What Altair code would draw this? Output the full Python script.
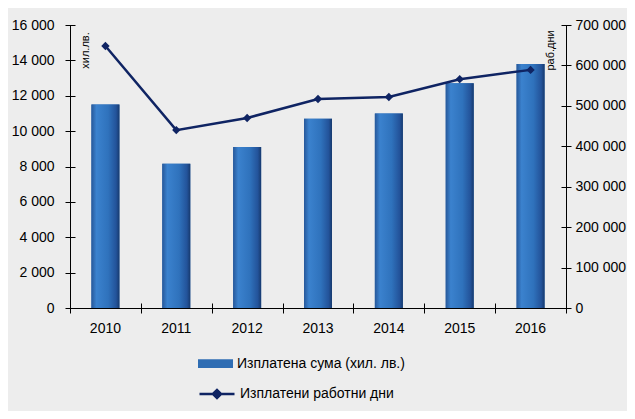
import altair as alt
import pandas as pd

years = ["2010", "2011", "2012", "2013", "2014", "2015", "2016"]
amount = [11500, 8150, 9100, 10700, 11000, 12700, 13800]
days = [648000, 440000, 470000, 517000, 522000, 566000, 589000]

bar_label = "Изплатена сума (хил. лв.)"
line_label = "Изплатени работни дни"
left_title = "хил.лв."
right_title = "раб.дни"

df = pd.DataFrame({"year": years, "amount": amount, "days": days})

FONT = "Liberation Sans"
NAVY = "#0f2463"
BLUE = "#2f6db3"

xscale = alt.Scale(paddingInner=0, paddingOuter=0)
yl = alt.Scale(domain=[0, 16000], nice=False)
yr = alt.Scale(domain=[0, 700000], nice=False)

base = alt.Chart(df)

bars = base.mark_bar(size=28).encode(
    x=alt.X("year:N", scale=xscale, title=None,
            axis=alt.Axis(orient="bottom", ticks=False, domain=True, labels=True,
                          labelAngle=0, labelPadding=13)),
    y=alt.Y("amount:Q", scale=yl,
            axis=alt.Axis(orient="left", ticks=False, domain=True, labels=True,
                          labelPadding=16, values=list(range(0, 16001, 2000)),
                          format=",d", title=left_title, titleAngle=270,
                          titleX=15, titleY=25, titleAlign="center",
                          titleBaseline="middle", titleFontSize=11,
                          titleFontWeight="normal", titleFont=FONT,
                          titleColor="#000")),
    fill=alt.Fill("lbl:N", scale=alt.Scale(range=[BLUE]),
                  legend=alt.Legend(title=None, orient="none", legendX=128,
                                    legendY=321, symbolType="M-1,-0.25H1V0.25H-1Z",
                                    symbolSize=1225, symbolStrokeWidth=0,
                                    labelFont=FONT, labelFontSize=14, labelLimit=400,
                                    labelColor="#000", labelOffset=4, padding=0)),
).transform_calculate(lbl=f"'{bar_label}'")

grad = alt.Gradient(
    gradient="linear", x1=0, x2=1, y1=0, y2=0,
    stops=[alt.GradientStop(offset=0, color="#27589a"),
           alt.GradientStop(offset=0.18, color="#3b82ce"),
           alt.GradientStop(offset=0.6, color="#2f72bc"),
           alt.GradientStop(offset=0.88, color="#23539a"),
           alt.GradientStop(offset=1, color="#173a6e")])

bars_grad = base.mark_bar(size=28, color=grad).encode(
    x=alt.X("year:N", scale=xscale, title=None,
            axis=alt.Axis(orient="bottom", offset=-5, tickSize=10, domain=False,
                          labels=False, tickBand="extent", tickColor="#000")),
    y=alt.Y("amount:Q", scale=yl, title=None,
            axis=alt.Axis(orient="left", offset=-5, tickSize=10, domain=False,
                          labels=False, values=list(range(0, 16001, 2000)),
                          tickColor="#000")),
)

line = base.mark_line(strokeWidth=2.5).encode(
    x=alt.X("year:N", scale=xscale, axis=None),
    y=alt.Y("days:Q", scale=yr,
            axis=alt.Axis(orient="right", ticks=False, domain=True, labels=True,
                          labelPadding=9, values=list(range(0, 700001, 100000)),
                          format=",d", title=right_title, titleAngle=270,
                          titleX=-16, titleY=25, titleAlign="center",
                          titleBaseline="middle", titleFontSize=11,
                          titleFontWeight="normal", titleFont=FONT,
                          titleColor="#000")),
    stroke=alt.Stroke("lbl2:N", scale=alt.Scale(range=[NAVY]),
                      legend=alt.Legend(title=None, orient="none", legendX=128,
                                        legendY=350,
                                        symbolType="M-1,0H1M-0.23,0L0,-0.23L0.23,0L0,0.23Z",
                                        symbolSize=1225, symbolStrokeWidth=2.5,
                                        symbolFillColor=NAVY,
                                        labelFont=FONT, labelFontSize=14, labelLimit=400,
                                        labelColor="#000", labelOffset=4, padding=0)),
).transform_calculate(lbl2=f"'{line_label}'")

pts = base.mark_point(shape="diamond", filled=True, size=70, color=NAVY, opacity=1).encode(
    x=alt.X("year:N", scale=xscale, axis=None),
    y=alt.Y("days:Q", scale=yr, title=None,
            axis=alt.Axis(orient="right", offset=-5, tickSize=10, domain=False,
                          labels=False, values=list(range(0, 700001, 100000)),
                          tickColor="#000")),
)

chart = alt.layer(bars, bars_grad, line, pts).resolve_scale(
    y="independent"
).resolve_axis(
    x="independent", y="independent"
).properties(
    width=496, height=283,
    autosize=alt.AutoSizeParams(type="none"),
    padding={"left": 62, "top": 17, "right": 61, "bottom": 103},
    background="#ededed",
).configure_axis(
    grid=False, labelFont=FONT, labelFontSize=14, labelColor="#000",
    domainColor="#000", domainWidth=1, tickColor="#000",
).configure_view(stroke=None)

chart.save("out.html", embed_options={"renderer": "svg", "actions": False,
                                      "formatLocale": {"decimal": ",", "thousands": "\u00a0",
                                                       "grouping": [3], "currency": ["", " лв."]}})
